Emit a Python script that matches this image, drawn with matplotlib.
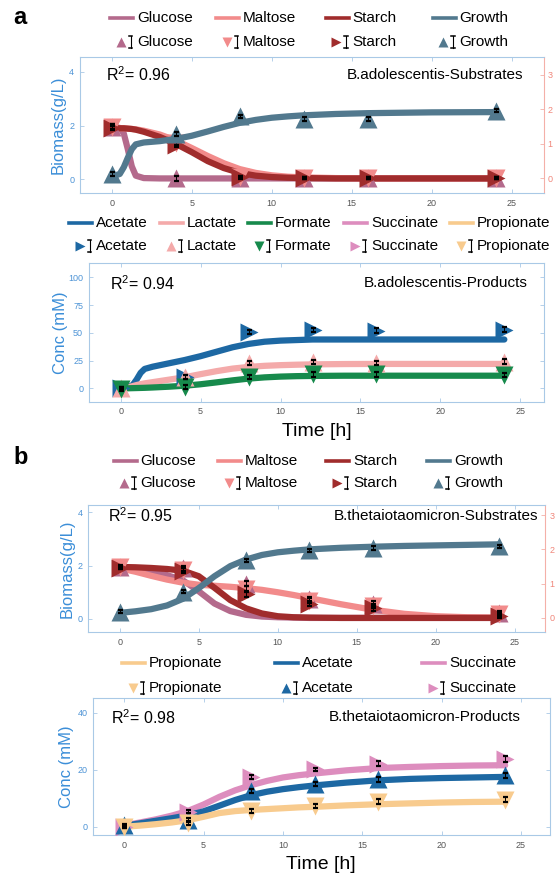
import matplotlib
matplotlib.use("Agg")
import matplotlib.pyplot as plt
from matplotlib.lines import Line2D
from matplotlib.transforms import Affine2D

plt.rcParams['font.family'] = ['Liberation Sans', 'DejaVu Sans']
plt.rcParams['mathtext.fontset'] = 'custom'
plt.rcParams['mathtext.rm'] = 'Liberation Sans'

W, H = 558, 874

# sampling times of the measurements
t_obs = [0, 4, 8, 12, 16, 24]

# ---- a: B.adolescentis substrates (growth -> left axis, sugars -> right axis)
growth_a = [0.19, 1.68, 2.35, 2.23, 2.25, 2.55]
growth_a_err = [0.07, 0.07, 0.06, 0.07, 0.07, 0.05]
glucose_a = [1.50, 0.0, 0.0, 0.0, 0.0, 0.0]
maltose_a = [1.50, 1.02, 0.05, 0.0, 0.0, 0.0]
starch_a = [1.45, 0.98, 0.03, 0.0, 0.0, 0.0]
sugar_a_err = [0.06, 0.06, 0.03, 0.03, 0.03, 0.03]

# model fit curves
tf_a = [0, 0.5, 0.75, 1, 1.25, 1.5, 2, 3, 4, 5, 6, 7, 8, 9, 10, 11, 12, 14, 16, 20, 24]
growth_fit_a = [0.10, 0.20, 0.45, 0.80, 1.12, 1.30, 1.37, 1.42, 1.50, 1.62, 1.78, 1.95, 2.10,
                2.21, 2.29, 2.34, 2.38, 2.43, 2.46, 2.49, 2.50]
glucose_fit_a = [1.50, 1.46, 1.30, 0.85, 0.35, 0.08, 0.01, 0, 0, 0, 0, 0, 0, 0, 0, 0, 0, 0, 0, 0, 0]
maltose_fit_a = [1.45, 1.45, 1.45, 1.44, 1.43, 1.42, 1.38, 1.27, 1.10, 0.88, 0.65, 0.44, 0.27,
                 0.16, 0.09, 0.05, 0.03, 0.01, 0, 0, 0]
starch_fit_a = [1.45, 1.45, 1.45, 1.44, 1.43, 1.41, 1.35, 1.20, 1.00, 0.76, 0.50, 0.30, 0.16,
                0.08, 0.04, 0.02, 0.01, 0, 0, 0, 0]

# ---- a: B.adolescentis products (mM)
acetate_a = [0, 10, 51, 52.5, 52, 53]
lactate_a = [0, 10.5, 23, 23.5, 23, 24]
formate_a = [-1, 1.5, 10, 12.5, 12.5, 12]
prod_a_err = [1.5, 1.8, 2, 2, 2, 2]
acetate_fit_a = [0, 1.5, 3, 8, 14, 17.5, 19.5, 22.5, 25.5, 29, 33, 37, 40, 42, 43, 43.5, 44, 44, 44, 44, 44]
lactate_fit_a = [0, 1.2, 2, 3, 3.8, 4.5, 5.6, 7.8, 10, 12.8, 15.5, 17.8, 19.3, 20.3, 20.9, 21.3,
                 21.6, 21.9, 22, 22, 22]
formate_fit_a = [0, 0.1, 0.2, 0.3, 0.4, 0.5, 0.8, 1.5, 2.4, 3.7, 5.4, 7.2, 8.8, 9.9, 10.6, 11,
                 11.2, 11.4, 11.4, 11.4, 11.4]

# ---- b: B.thetaiotaomicron substrates
growth_b = [0.26, 1.02, 2.20, 2.58, 2.65, 2.72]
growth_b_err = [0.06, 0.07, 0.06, 0.06, 0.07, 0.05]
glucose_b = [1.50, 1.45, 1.00, 0.55, 0.42, 0.15]
maltose_b = [1.48, 1.40, 0.85, 0.50, 0.35, 0.12]
starch_b = [1.47, 1.38, 0.70, 0.42, 0.28, 0.07]
sugar_b_err = [0.05, 0.07, 0.08, 0.07, 0.07, 0.06]

tf_b = [0, 1, 2, 3, 4, 5, 6, 7, 8, 9, 10, 11, 12, 14, 16, 18, 20, 22, 24]
growth_fit_b = [0.22, 0.28, 0.36, 0.50, 0.75, 1.15, 1.60, 1.98, 2.23, 2.40, 2.50, 2.56, 2.61,
                2.67, 2.71, 2.74, 2.76, 2.78, 2.80]
glucose_fit_b = [1.48, 1.42, 1.35, 1.25, 1.10, 0.78, 0.42, 0.20, 0.09, 0.04, 0.02, 0.01, 0, 0,
                 0, 0, 0, 0, 0]
maltose_fit_b = [1.45, 1.35, 1.23, 1.12, 1.03, 0.97, 0.94, 0.91, 0.87, 0.82, 0.75, 0.67, 0.58,
                 0.40, 0.24, 0.12, 0.05, 0.02, 0.01]
starch_fit_b = [1.49, 1.48, 1.46, 1.43, 1.38, 1.22, 0.88, 0.52, 0.28, 0.13, 0.05, 0.02, 0.01,
                0, 0, 0, 0, 0, 0]

# ---- b: B.thetaiotaomicron products
propionate_b = [0, 1.2, 5.5, 7.3, 8.8, 9.5]
acetate_b = [0.5, 2.5, 12.5, 15, 16.7, 18.1]
succinate_b = [0, 5.3, 17.5, 20.1, 22.2, 23.8]
prod_b_err = [0.5, 0.6, 0.8, 0.7, 0.9, 0.9]
propionate_fit_b = [0, 0.4, 0.9, 1.5, 2.3, 3.5, 4.8, 5.5, 5.9, 6.2, 6.5, 6.8, 7.0, 7.5, 7.9, 8.2,
                    8.5, 8.7, 8.8]
acetate_fit_b = [0.3, 1.2, 2.1, 3.0, 4.0, 5.4, 7.4, 9.4, 11.1, 12.3, 13.2, 13.9, 14.5, 15.5, 16.3,
                 16.8, 17.1, 17.3, 17.5]
succinate_fit_b = [0.5, 1.5, 2.6, 3.9, 5.5, 7.8, 10.5, 12.8, 14.6, 16.1, 17.3, 18.1, 18.7, 19.8,
                   20.6, 21.0, 21.3, 21.5, 21.6]

# colours
c_glu, c_mal, c_sta, c_gro = '#B46A8C', '#F28B8B', '#A02C2C', '#52798E'
c_ace, c_lac, c_for, c_suc, c_pro = '#1D68A3', '#F4AAAA', '#178A4C', '#DD8DBE', '#F8CB8E'
blue_ax, blue_txt, blue_lab = '#A9C9E6', '#4E94D6', '#3B8ED8'
red_ax, red_txt = '#F4B0A8', '#F0867A'

fig = plt.figure(figsize=(W / 100, H / 100), dpi=100)
T = Affine2D().scale(1 / W, -1 / H).translate(0, 1) + fig.transFigure


def rect(l, t, r, b):
    return [l / W, 1 - b / H, (r - l) / W, (b - t) / H]


def style_axis(ax, ylab, ylab_x):
    for s in ['left', 'top', 'bottom', 'right']:
        ax.spines[s].set_color(blue_ax)
        ax.spines[s].set_linewidth(0.8)
    ax.tick_params(direction='in', length=3, width=0.6, color=blue_ax, top=True, labelsize=6.5, pad=4)
    ax.tick_params(axis='x', labelcolor='#555555')
    ax.tick_params(axis='y', labelcolor=blue_txt)
    ax.set_xticks([0, 5, 10, 15, 20, 25])
    ax.set_ylabel(ylab, fontsize=12, color=blue_lab)
    ax.yaxis.set_label_coords(ylab_x, 0.5)


def series(ax, t_fit, y_fit, y_obs, y_err, color, marker):
    ax.plot(t_fit, y_fit, color=color, lw=4.5, solid_capstyle='round', zorder=2)
    ax.plot(t_obs, y_obs, ls='none', marker=marker, ms=13, color=color, mec='none', zorder=3)
    ax.errorbar(t_obs, y_obs, yerr=y_err, fmt='none', ecolor='k', elinewidth=0.7,
                capsize=1.8, capthick=1.6, zorder=4)


def labels(ax, r2, title, r2_pos, title_pos):
    ax.text(r2_pos[0], r2_pos[1], r'$\mathregular{R^2}$= ' + r2, transform=ax.transAxes,
            fontsize=11.5, va='center', ha='left')
    ax.text(title_pos[0], title_pos[1], title, transform=ax.transAxes,
            fontsize=11, va='center', ha='right')


def legend_block(names, colors, markers, xs, y1, y2):
    for name, color, marker, x in zip(names, colors, markers, xs):
        fig.add_artist(Line2D([x, x + 23], [y1, y1], color=color, lw=2.6, transform=T))
        fig.text(x + 27, y1, name, transform=T, fontsize=11, va='center', ha='left')
        fig.add_artist(Line2D([x + 10.5], [y2], marker=marker, ms=7, color=color,
                              mec='none', ls='none', transform=T))
        fig.add_artist(Line2D([x + 20.5, x + 20.5], [y2 - 6, y2 + 6], color='k', lw=0.8, transform=T))
        for yy in (y2 - 6, y2 + 6):
            fig.add_artist(Line2D([x + 18.8, x + 22.2], [yy, yy], color='k', lw=1.1, transform=T))
        fig.text(x + 27, y2, name, transform=T, fontsize=11, va='center', ha='left')


def substrate_panel(rc, xlim, ylim_l, ylim_r, ylab_x, t_fit, growth_fit, glu_fit, mal_fit, sta_fit,
                    growth, growth_err, glu, mal, sta, sug_err, r2, title, r2_pos, title_pos):
    ax = fig.add_axes(rect(*rc))
    ax2 = ax.twinx()
    ax.set_zorder(ax2.get_zorder() + 1)
    ax.patch.set_visible(False)
    style_axis(ax, 'Biomass(g/L)', ylab_x)
    ax.spines['right'].set_visible(False)
    ax.tick_params(right=False)
    for s in ['left', 'top', 'bottom']:
        ax2.spines[s].set_visible(False)
    ax2.spines['right'].set_color(red_ax)
    ax2.spines['right'].set_linewidth(0.8)
    ax2.tick_params(direction='in', length=3, width=0.6, color=red_ax, labelsize=6.5,
                    labelcolor=red_txt, pad=3)
    series(ax2, t_fit, glu_fit, glu, sug_err, c_glu, '^')
    series(ax2, t_fit, mal_fit, mal, sug_err, c_mal, 'v')
    series(ax2, t_fit, sta_fit, sta, sug_err, c_sta, '>')
    series(ax, t_fit, growth_fit, growth, growth_err, c_gro, '^')
    ax.set_xlim(*xlim)
    ax.set_ylim(*ylim_l)
    ax2.set_ylim(*ylim_r)
    ax.set_yticks([0, 2, 4])
    ax2.set_yticks([0, 1, 2, 3])
    labels(ax, r2, title, r2_pos, title_pos)
    return ax


def product_panel(rc, xlim, ylim, yticks, ylab_x, curves, r2, title, r2_pos, title_pos, time_y):
    ax = fig.add_axes(rect(*rc))
    style_axis(ax, 'Conc (mM)', ylab_x)
    ax.tick_params(right=True)
    for t_fit, y_fit, y_obs, y_err, color, marker in curves:
        series(ax, t_fit, y_fit, y_obs, y_err, color, marker)
    ax.set_xlim(*xlim)
    ax.set_ylim(*ylim)
    ax.set_yticks(yticks)
    labels(ax, r2, title, r2_pos, title_pos)
    ax.set_xlabel('Time [h]', fontsize=14)
    ax.xaxis.set_label_coords(0.5, time_y)
    return ax


# panel a
substrate_panel((79.8, 56.7, 543.6, 193.3), (-2, 27), (-0.52, 4.56), (-0.43, 3.52), -0.031,
                tf_a, growth_fit_a, glucose_fit_a, maltose_fit_a, starch_fit_a,
                growth_a, growth_a_err, glucose_a, maltose_a, starch_a, sugar_a_err,
                '0.96', 'B.adolescentis-Substrates', (0.056, 0.865), (0.956, 0.865))
product_panel((88.7, 263.3, 544.3, 401.7), (-2, 26.5), (-12, 112.6), [0, 25, 50, 75, 100], -0.045,
              [(tf_a, acetate_fit_a, acetate_a, prod_a_err, c_ace, '>'),
               (tf_a, lactate_fit_a, lactate_a, prod_a_err, c_lac, '^'),
               (tf_a, formate_fit_a, formate_a, prod_a_err, c_for, 'v')],
              '0.94', 'B.adolescentis-Products', (0.047, 0.855), (0.964, 0.855), -0.157)

# panel b
substrate_panel((88, 505, 545, 632.3), (-2, 26.9), (-0.51, 4.28), (-0.42, 3.30), -0.030,
                tf_b, growth_fit_b, glucose_fit_b, maltose_fit_b, starch_fit_b,
                growth_b, growth_b_err, glucose_b, maltose_b, starch_b, sugar_b_err,
                '0.95', 'B.thetaiotaomicron-Substrates', (0.044, 0.915), (0.985, 0.915))
product_panel((92.9, 698.3, 549.6, 835), (-1.97, 26.8), (-2.9, 45.1), [0, 20, 40], -0.042,
              [(tf_b, succinate_fit_b, succinate_b, prod_b_err, c_suc, '>'),
               (tf_b, acetate_fit_b, acetate_b, prod_b_err, c_ace, '^'),
               (tf_b, propionate_fit_b, propionate_b, prod_b_err, c_pro, 'v')],
              '0.98', 'B.thetaiotaomicron-Products', (0.04, 0.855), (0.937, 0.865), -0.155)

# legends
legend_block(['Glucose', 'Maltose', 'Starch', 'Growth'], [c_glu, c_mal, c_sta, c_gro],
             ['^', 'v', '>', '^'], [110, 216, 325.5, 432.6], 18.3, 41.7)
legend_block(['Acetate', 'Lactate', 'Formate', 'Succinate', 'Propionate'],
             [c_ace, c_lac, c_for, c_suc, c_pro], ['>', '^', 'v', '>', 'v'],
             [69, 160, 248, 344, 450], 223.3, 246)
legend_block(['Glucose', 'Maltose', 'Starch', 'Growth'], [c_glu, c_mal, c_sta, c_gro],
             ['^', 'v', '>', '^'], [113.5, 218, 326, 427], 460.7, 483.3)
legend_block(['Propionate', 'Acetate', 'Succinate'], [c_pro, c_ace, c_suc],
             ['v', '^', '>'], [122, 275, 422], 663.3, 687.7)

fig.text(13, 17, 'a', transform=T, fontsize=17, fontweight='bold', va='center', ha='left')
fig.text(13, 457, 'b', transform=T, fontsize=17, fontweight='bold', va='center', ha='left')

fig.savefig('out.png', dpi=100)
